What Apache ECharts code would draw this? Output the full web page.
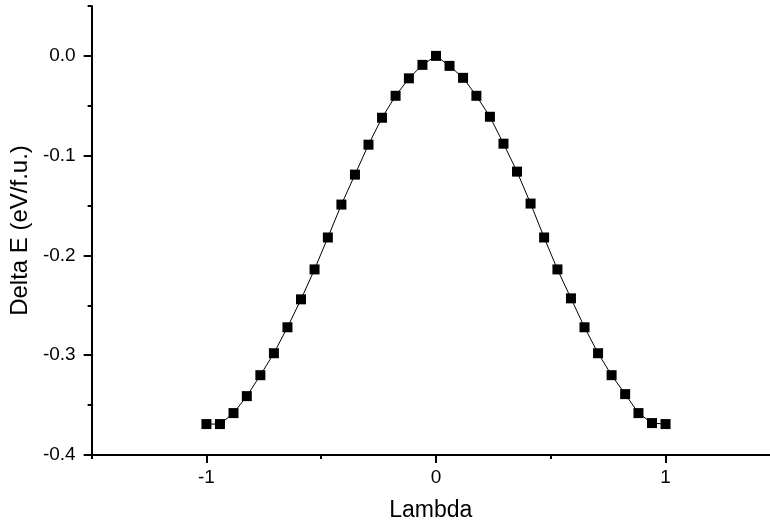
<!DOCTYPE html>
<html>
<head>
<meta charset="utf-8">
<script src="https://cdn.jsdelivr.net/npm/echarts@6/dist/echarts.min.js"></script>
<style>
  html, body { margin: 0; padding: 0; background: #fff; }
  #chart { width: 770px; height: 527px; }
</style>
</head>
<body>
<div id="chart"></div>
<script>
// lambda values (35 points)
const lambda = [
  -1.0, -0.941, -0.882, -0.824, -0.765, -0.706, -0.647, -0.588, -0.529,
  -0.471, -0.412, -0.353, -0.294, -0.235, -0.176, -0.118, -0.059, 0.0,
  0.059, 0.118, 0.176, 0.235, 0.294, 0.353, 0.412, 0.471, 0.529,
  0.588, 0.647, 0.706, 0.765, 0.824, 0.882, 0.941, 1.0
];
// Delta E (eV/f.u.)
const deltaE = [
  -0.369, -0.369, -0.358, -0.341, -0.320, -0.298, -0.272, -0.244, -0.214,
  -0.182, -0.149, -0.119, -0.089, -0.062, -0.040, -0.0225, -0.009, 0.0,
  -0.010, -0.022, -0.040, -0.061, -0.088, -0.116, -0.148, -0.182, -0.214,
  -0.243, -0.272, -0.298, -0.320, -0.339, -0.358, -0.368, -0.369
];
const xMajor = [-1, 0, 1];
const xMinor = [-1.5, -0.5, 0.5];
const yMajor = [-0.4, -0.3, -0.2, -0.1, 0.0];
const yMinor = [-0.35, -0.25, -0.15, -0.05, 0.05];

// the original x axis runs -1.5..1.5 but is cut off by the right edge
const xMin = -1.5;
const xMax = 1.455;

const font = "'Liberation Sans', Arial, sans-serif";
const chart = echarts.init(document.getElementById("chart"));

// extra axes that only draw ticks (major / minor)
function tickAxis(min, max, pos, values, len) {
  return {
    type: "value",
    min: min,
    max: max,
    position: pos,
    axisLine: { show: false, onZero: false },
    axisTick: { show: true, customValues: values, length: len, lineStyle: { color: "#000", width: 2 } },
    axisLabel: { show: false },
    splitLine: { show: false }
  };
}

chart.setOption({
  animation: false,
  grid: { left: 91, right: 0, top: 6, bottom: 72 },
  xAxis: [
    {
      type: "value",
      min: xMin,
      max: xMax,
      name: "Lambda",
      nameLocation: "middle",
      nameGap: 44,
      nameTextStyle: { color: "#000", fontSize: 23, fontFamily: font },
      axisLine: { show: true, onZero: false, lineStyle: { color: "#000", width: 2 } },
      axisTick: { show: false },
      axisLabel: {
        customValues: xMajor,
        margin: 13,
        color: "#000",
        fontSize: 19,
        fontFamily: font,
        formatter: (v) => String(v)
      },
      splitLine: { show: false }
    },
    tickAxis(xMin, xMax, "bottom", xMajor, 8),
    tickAxis(xMin, xMax, "bottom", xMinor, 4)
  ],
  yAxis: [
    {
      type: "value",
      min: -0.4,
      max: 0.05,
      name: "Delta E (eV/f.u.)",
      nameLocation: "middle",
      nameGap: 56,
      nameTextStyle: { color: "#000", fontSize: 24, fontFamily: font },
      axisLine: { show: true, onZero: false, lineStyle: { color: "#000", width: 2 } },
      axisTick: { show: false },
      axisLabel: {
        customValues: yMajor,
        margin: 16,
        color: "#000",
        fontSize: 19,
        fontFamily: font,
        formatter: (v) => v.toFixed(1)
      },
      splitLine: { show: false }
    },
    tickAxis(-0.4, 0.05, "left", yMajor, 8),
    tickAxis(-0.4, 0.05, "left", yMinor, 4)
  ],
  series: [
    {
      type: "line",
      xAxisIndex: 0,
      yAxisIndex: 0,
      data: lambda.map((x, i) => [x, deltaE[i]]),
      symbol: "rect",
      symbolSize: 10,
      itemStyle: { color: "#000" },
      lineStyle: { color: "#000", width: 1 }
    }
  ]
});
</script>
</body>
</html>
